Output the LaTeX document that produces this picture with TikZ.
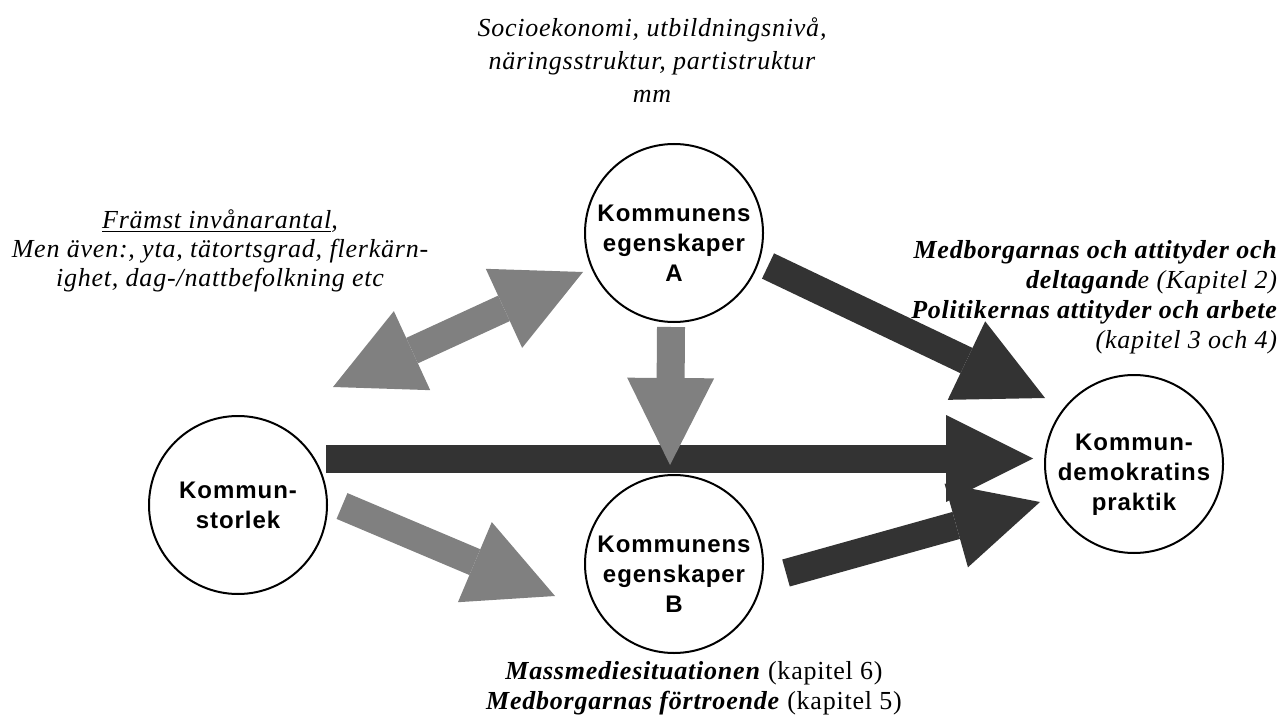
\documentclass[tikz,border=0pt]{standalone}
\usepackage{fontspec}
\setmainfont{Liberation Serif}[LetterSpace=3]
\newfontfamily\circfont{Liberation Sans}[LetterSpace=4]
\usepackage{xcolor}
\usetikzlibrary{arrows.meta}

\definecolor{arrgray}{HTML}{808080}
\definecolor{arrdark}{HTML}{333333}
\newcommand{\toppad}{\rule{0pt}{18.6pt}}

\begin{document}
\begin{tikzpicture}[
    x=0.5pt, y=-0.5pt,
    circ/.style={draw, circle, line width=1pt, minimum size=89pt, inner sep=-12pt,
                 align=center, font=\circfont\bfseries\fontsize{12}{15}\selectfont},
    garr/.style={draw=arrgray, line width=14pt, -{Triangle[length=43.5pt, width=43.5pt, line width=0pt]}},
    darr/.style={draw=arrdark, line width=14pt, -{Triangle[length=43.5pt, width=43.5pt, line width=0pt]}},
    note/.style={align=center, font=\fontsize{13}{15}\selectfont}
]
\useasboundingbox (0,0) rectangle (1288,716);

\node[circ] (size) at (238,505) {Kommun-\\storlek};
\node[circ] (egA) at (674,233) {\toppad Kommunens\\egenskaper\\A};
\node[circ] (egB) at (674,564) {\toppad Kommunens\\egenskaper\\B};
\node[circ] (prak) at (1134,464) {\toppad Kommun-\\demokratins\\praktik};

% arrow ends
\coordinate (midS) at (326,458.5);
\coordinate (midE) at (1033,458.5);
\coordinate (downS) at (671,327);
\coordinate (downE) at (670,465);
\coordinate (dblS) at (333,387);
\coordinate (dblE) at (583,272);
\coordinate (upS) at (768,266);
\coordinate (upE) at (1045,398);
\coordinate (lowS) at (786,573);
\coordinate (lowE) at (1040,502);
\coordinate (szS) at (342,506);
\coordinate (szE) at (555,596);

\draw[darr] (midS) -- (midE);
\draw[garr] (downS) -- (downE);
\draw[garr, {Triangle[length=43.5pt, width=43.5pt, line width=0pt]}-{Triangle[length=43.5pt, width=43.5pt, line width=0pt]}] (dblS) -- (dblE);
\draw[darr] (upS) -- (upE);
\draw[darr] (lowS) -- (lowE);
\draw[garr] (szS) -- (szE);

% texts
\node[note, font=\itshape\fontsize{13}{16.5}\selectfont] (topnote) at (652,60)
    {Socioekonomi, utbildningsnivå,\\ näringsstruktur, partistruktur\\ mm};
\node[note, font=\itshape\fontsize{13}{14.5}\selectfont] (leftnote) at (220,251)
    {\underline{Främst invånarantal},\\ Men även:, yta, tätortsgrad, flerkärn-\\ ighet, dag-/nattbefolkning etc};
\node[note, align=right, anchor=east, font=\itshape\fontsize{13}{15}\selectfont] (rightnote) at (1284,297)
    {\textbf{Medborgarnas och attityder och}\\ \textbf{deltagand}e (Kapitel 2)\\ \textbf{Politikernas attityder och arbete}\\ (kapitel 3 och 4)};
\node[note] (botnote) at (694,688)
    {\textbf{\textit{Massmediesituationen}} (kapitel 6)\\ \textbf{\textit{Medborgarnas förtroende}} (kapitel 5)};
\end{tikzpicture}
\end{document}
